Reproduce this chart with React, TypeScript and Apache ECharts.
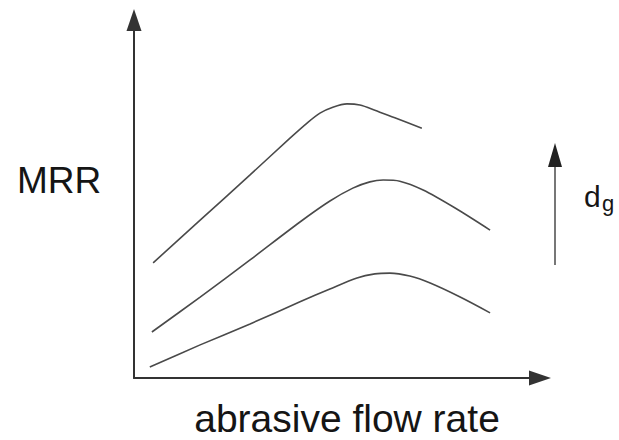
import React, { useEffect, useRef } from "react";
import * as echarts from "echarts";

// Curves: [abrasive flow rate, MRR] in relative units (0-100)
const lowCurve: [number, number][] = [
  [3.8, 3.0], [15.9, 9.0], [27.9, 14.7], [39.9, 20.7], [47.1, 24.2], [53.6, 27.2],
  [57.9, 28.3], [61.5, 28.5], [66.3, 27.7], [71.2, 25.8], [78.4, 22.0], [85.6, 17.7],
];
const midCurve: [number, number][] = [
  [4.3, 12.5], [15.9, 22.0], [27.9, 32.1], [39.9, 42.4], [47.1, 48.1], [52.6, 51.6],
  [56.7, 53.3], [59.9, 53.8], [63.9, 53.5], [69.5, 51.1], [77.2, 46.2], [85.6, 40.2],
];
const highCurve: [number, number][] = [
  [4.6, 31.3], [15.9, 42.9], [27.9, 55.2], [37.5, 65.2], [41.6, 69.3], [44.7, 72.0],
  [47.8, 73.6], [51.2, 74.5], [54.3, 74.2], [57.9, 72.8], [62.7, 70.7], [69.2, 67.9],
];
const yLabel = "MRR";
const xLabel = "abrasive flow rate";
const paramMain = "d";
const paramSub = "g";

const FONT = "'Liberation Sans', Arial, sans-serif";

export default function App() {
  const ref = useRef<HTMLDivElement>(null);
  useEffect(() => {
    if (!ref.current) return;
    const chart = echarts.init(ref.current, null, { renderer: "svg" });
    const lineStyle = { color: "#4a4a4a", width: 1.6 };
    const mkSeries = (data: [number, number][]) => ({
      type: "line",
      data,
      smooth: 0.3,
      showSymbol: false,
      symbol: "none",
      lineStyle,
      silent: true,
    });
    chart.setOption({
      animation: false,
      backgroundColor: "#ffffff",
      grid: { left: 134, top: 20, width: 406, height: 358 },
      xAxis: {
        type: "value",
        min: 0,
        max: 97.6,
        axisLine: {
          show: true,
          lineStyle: { color: "#333", width: 2 },
          symbol: ["none", "triangle"],
          symbolSize: [15, 22],
        },
        axisTick: { show: false },
        axisLabel: { show: false },
        splitLine: { show: false },
      },
      yAxis: {
        type: "value",
        min: 0,
        max: 97.3,
        axisLine: {
          show: true,
          lineStyle: { color: "#333", width: 2 },
          symbol: ["none", "triangle"],
          symbolSize: [15, 22],
        },
        axisTick: { show: false },
        axisLabel: { show: false },
        splitLine: { show: false },
      },
      series: [mkSeries(lowCurve), mkSeries(midCurve), mkSeries(highCurve)],
      graphic: [
        {
          type: "text",
          left: 17,
          top: 162,
          style: { text: yLabel, font: `37px ${FONT}`, fill: "#151515" },
        },
        {
          type: "text",
          x: 347,
          y: 418,
          style: {
            text: xLabel,
            font: `39px ${FONT}`,
            fill: "#151515",
            textAlign: "center",
            textVerticalAlign: "middle",
          },
        },
        {
          type: "line",
          shape: { x1: 555, y1: 160, x2: 555, y2: 265 },
          style: { stroke: "#777", lineWidth: 2 },
        },
        {
          type: "polygon",
          shape: { points: [[555, 143], [548, 167], [562, 167]] },
          style: { fill: "#222" },
        },
        {
          type: "text",
          x: 584,
          y: 196.5,
          style: { text: paramMain, font: `30px ${FONT}`, fill: "#151515", textVerticalAlign: "middle" },
        },
        {
          type: "text",
          x: 602,
          y: 203.5,
          style: { text: paramSub, font: `22px ${FONT}`, fill: "#151515", textVerticalAlign: "middle" },
        },
      ],
    });
    return () => chart.dispose();
  }, []);
  return (
    <div
      ref={ref}
      style={{ position: "fixed", left: 0, top: 0, width: 619, height: 440, background: "#fff" }}
    />
  );
}
